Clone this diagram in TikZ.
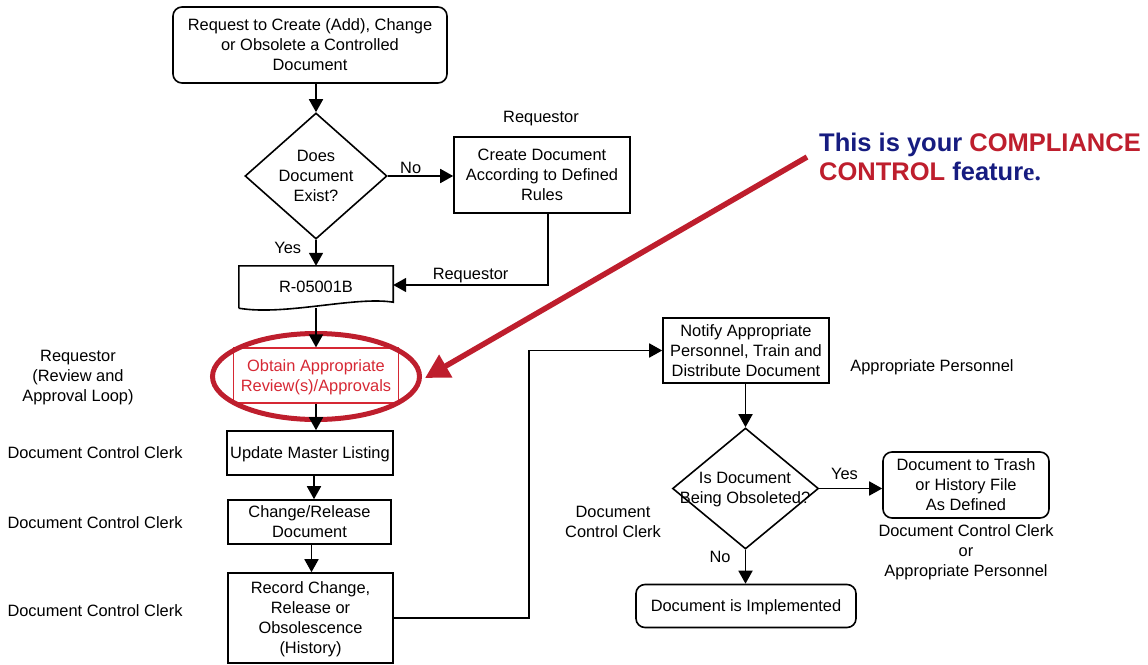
\documentclass[tikz,border=0pt]{standalone}
\usepackage{fontspec}
\setmainfont{Liberation Sans}
\newfontfamily\serifbold{Liberation Serif}
\usetikzlibrary{arrows.meta,shapes.geometric}
\definecolor{ringred}{RGB}{190,30,45}
\definecolor{textred}{RGB}{214,40,52}
\definecolor{navy}{RGB}{22,28,128}
\begin{document}
\begin{tikzpicture}[x=1pt,y=-1pt,
  every node/.style={font=\fontsize{16.4}{20}\selectfont, align=center, inner sep=0pt, text depth=0pt},
  box/.style={draw, line width=1.6pt},
  rbox/.style={draw, line width=1.6pt, rounded corners=9pt},
  dia/.style={draw, line width=1.6pt, diamond},
  lbl/.style={inner sep=0pt},
  arr/.style={line width=1.8pt, -{Triangle[length=13pt,width=14pt]}}]
\useasboundingbox (0,0) rectangle (1148,664);

% process boxes, left column
\node[rbox, minimum width=274pt, minimum height=76pt] (start) at (310,45)
  {Request to Create (Add), Change\\or Obsolete a Controlled\\Document};
\node[dia, minimum width=142pt, minimum height=118pt] (exist) at (316,176)
  {Does\\Document\\Exist?};
\node[box, minimum width=176pt, minimum height=76pt] (create) at (542,175)
  {Create Document\\According to Defined\\Rules};
\node[minimum width=154pt, minimum height=42pt] (form) at (316,287) {R-05001B};
\draw[line width=1.6pt] (form.south west) -- (form.north west) -- (form.north east)
  -- ([yshift=6pt]form.south east) .. controls (355,296) and (285,316) .. (form.south west);
\node[box, draw=textred, text=textred, line width=1.2pt, minimum width=165pt, minimum height=55pt]
  (obtain) at (316,375.5) {Obtain Appropriate\\Review(s)/Approvals};
\node[draw=ringred, line width=5pt, ellipse, minimum width=207pt, minimum height=86pt]
  (ring) at (316,376.5) {};
\node[box, minimum width=166pt, minimum height=44pt] (update) at (310,453) {Update Master Listing};
\node[box, minimum width=163pt, minimum height=44pt] (change) at (309.5,522) {Change/Release\\Document};
\node[box, minimum width=165pt, minimum height=90pt] (record) at (310.5,618)
  {Record Change,\\Release or\\Obsolescence\\(History)};

% right column
\node[box, minimum width=166pt, minimum height=65pt] (notify) at (746,350.5)
  {Notify Appropriate\\Personnel, Train and\\Distribute Document};
\node[dia, minimum width=146pt, minimum height=121pt] (obs) at (745.5,488.5) {};
\node (obstext) at (745,487.5) {Is Document\\Being Obsoleted?};
\node[rbox, minimum width=166pt, minimum height=66pt] (trash) at (966,485)
  {Document to Trash\\or History File\\As Defined};
\node[rbox, minimum width=220pt, minimum height=43pt] (impl) at (746,606) {Document is Implemented};

% connectors
\draw[arr] (start.south -| exist.north) -- (exist.north);
\draw[arr] (exist.east) -- (exist.east -| create.west) node[lbl, pos=0.35, above=2pt] {No};
\draw[arr] (exist.south) -- (form.north) node[lbl, pos=0.3, left=14pt] {Yes};
\draw[arr] ([xshift=6pt]create.south) |- ([yshift=2pt]form.east)
  node[lbl, pos=0.75, above=5pt] {Requestor};
\draw[arr] (form.south) -- (obtain.north);
\draw[arr] (obtain.south) -- (obtain.south |- update.north);
\draw[arr] ([xshift=4pt]update.south) -- ([xshift=4pt]update.south |- change.north);
\draw[arr] ([xshift=2pt]change.south) -- ([xshift=2pt]change.south |- record.north);
\draw[arr] (record.east) -- ++(135,0) |- (notify.west);
\draw[arr] (notify.south -| obs.north) -- (obs.north);
\draw[arr] (obs.east) -- (obs.east -| trash.west) node[lbl, pos=0.4, above=8pt] {Yes};
\draw[arr] (obs.south) -- (obs.south |- impl.north) node[lbl, pos=0.2, left=14pt] {No};

% role annotations
\node (roleCreate) at (541,117) {Requestor};
\node (roleLoop) at (78,376) {Requestor\\(Review and\\Approval Loop)};
\node (roleUpdate) at (95,453) {Document Control Clerk};
\node (roleChange) at (95,523) {Document Control Clerk};
\node (roleRecord) at (95,611) {Document Control Clerk};
\node (roleMid) at (613,522) {Document\\Control Clerk};
\node (roleNotify) at (932,366) {Appropriate Personnel};
\node (roleTrash) at (966,551) {Document Control Clerk\\or\\Appropriate Personnel};

% callout
\node[anchor=west, align=left, text=navy, font=\bfseries\fontsize{25.5}{29}\selectfont]
  (callout) at (819,157)
  {This is your \textcolor{ringred}{COMPLIANCE}\\\textcolor{ringred}{CONTROL} featur{\serifbold e.}};
\coordinate (tip) at (425,378);
\draw[ringred, line width=5.5pt, -{Triangle[length=24pt,width=25pt]}]
  ([xshift=-12pt]callout.west) -- (tip);
\end{tikzpicture}
\end{document}
